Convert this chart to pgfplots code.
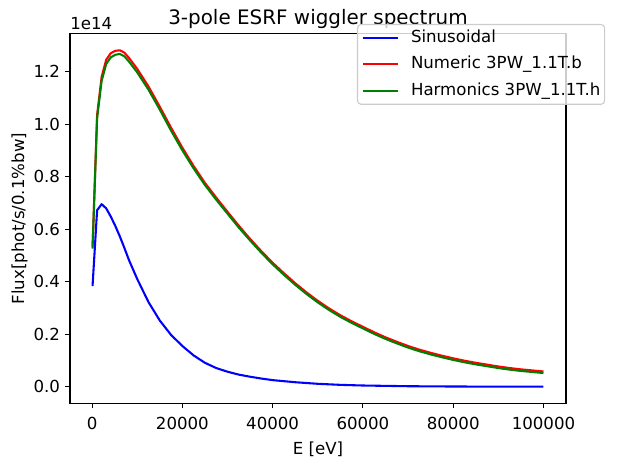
\documentclass[border=0pt]{standalone}
\usepackage{fontspec}
\setmainfont{DejaVu Sans}
\usepackage{pgfplots}
\usepackage{pgfplotstable}
\pgfplotsset{compat=1.18}
\definecolor{mplgreen}{rgb}{0,0.5,0}
\pgfplotstableread{
x y
100 0.383
1109 0.672
2118 0.695
3127 0.679
4136 0.648
5145 0.612
6155 0.572
7164 0.528
8173 0.482
10000 0.410
12500 0.322
15000 0.252
17500 0.197
20000 0.155
22500 0.119
25000 0.091
27500 0.071
30000 0.057
32500 0.046
35000 0.038
37500 0.031
40000 0.025
45000 0.017
50000 0.011
55000 0.007
60000 0.0045
70000 0.0018
80000 0.0007
90000 0.0003
100000 0.0001
}\sinus
\pgfplotstableread{
x y
100 0.53
1109 1.035
2118 1.18
3127 1.245
4136 1.270
5145 1.279
6155 1.281
7164 1.272
8173 1.252
10000 1.210
12500 1.143
15000 1.066
17500 0.986
20000 0.910
22500 0.840
25000 0.776
27500 0.720
30000 0.666
32500 0.613
35000 0.563
37500 0.516
40000 0.472
42500 0.432
45000 0.394
47500 0.359
50000 0.327
52500 0.298
55000 0.272
57500 0.249
60000 0.228
62500 0.207
65000 0.188
67500 0.171
70000 0.155
72500 0.141
75000 0.129
77500 0.118
80000 0.108
82500 0.099
85000 0.091
87500 0.084
90000 0.077
92500 0.071
95000 0.066
97500 0.062
100000 0.058
}\numeric
\pgfplotstableread{
x y
100 0.526
1109 1.022
2118 1.165
3127 1.229
4136 1.254
5145 1.264
6155 1.267
7164 1.258
8173 1.238
10000 1.197
12500 1.131
15000 1.055
17500 0.975
20000 0.900
22500 0.831
25000 0.768
27500 0.712
30000 0.659
32500 0.606
35000 0.557
37500 0.510
40000 0.466
42500 0.426
45000 0.388
47500 0.353
50000 0.321
52500 0.292
55000 0.266
57500 0.243
60000 0.222
62500 0.201
65000 0.182
67500 0.165
70000 0.149
72500 0.135
75000 0.123
77500 0.112
80000 0.102
82500 0.093
85000 0.085
87500 0.078
90000 0.071
92500 0.065
95000 0.060
97500 0.056
100000 0.052
}\harmonic
\begin{document}
\begin{tikzpicture}
\path[use as bounding box] (-50.4bp,-43.56bp) rectangle (393.84bp,290.52bp);
\begin{axis}[
  at={(0,0)}, anchor=south west,
  scale only axis, width=357.12bp, height=266.4bp,
  xmin=-4895, xmax=104995, ymin=-0.064, ymax=1.345,
  clip mode=individual,
  axis line style={line width=0.8bp},
  tick style={line width=0.8bp, black},
  tick align=outside, major tick length=3.5bp,
  xtick pos=bottom, ytick pos=left,
  xtick={0,20000,40000,60000,80000,100000},
  ytick={0,0.2,0.4,0.6,0.8,1.0,1.2},
  scaled ticks=false,
  /pgf/number format/assume math mode=true,
  xticklabel style={/pgf/number format/set thousands separator={}, /pgf/number format/fixed,
    font=\fontsize{12}{14.4}\selectfont, text height=8.75bp, text depth=0pt, inner sep=0pt, anchor=north, yshift=-6.4bp},
  yticklabel style={/pgf/number format/fixed, /pgf/number format/fixed zerofill, /pgf/number format/precision=1,
    font=\fontsize{12}{14.4}\selectfont, text height=8.75bp, text depth=0pt, inner sep=0pt, anchor=east, xshift=-3.5bp},
  every axis x label/.style={at={(axis description cs:0.5,-0.1366)}, anchor=base, font=\fontsize{12}{14.4}\selectfont, inner sep=0pt},
  every axis y label/.style={at={(axis description cs:-0.0927,0.5)}, rotate=90, anchor=base, font=\fontsize{12}{14.4}\selectfont, inner sep=0pt},
  xlabel={E [eV]},
  ylabel={Flux[phot/s/0.1\%bw]},
  title={3-pole ESRF wiggler spectrum},
  title style={at={(axis description cs:0.5,1)}, anchor=base, yshift=0.7bp, inner sep=0pt, font=\fontsize{14.4}{17}\selectfont},
  legend cell align=left,
  legend image code/.code={\draw[#1] (0bp,0bp) -- (25.2bp,0bp);},
  legend style={at={(axis description cs:0.5786,1.0257)}, anchor=north west,
    draw=black!20, line width=0.8bp, rounded corners=2.5bp, fill=white, fill opacity=0.8, text opacity=1,
    font=\fontsize{12}{14.4}\selectfont,
    inner xsep=3bp, inner ysep=3.85bp, row sep=7.6bp,
    nodes={inner sep=0pt, text height=9bp, text depth=2.5bp},
    /tikz/column 2/.style={column sep=0pt},
    /tikz/column 1/.style={column sep=8.8bp}},
  every axis plot/.append style={line width=1.5bp, line join=round},
]
\addplot[blue] table[x=x,y=y] {\sinus};
\addlegendentry{Sinusoidal}
\addplot[red] table[x=x,y=y] {\numeric};
\addlegendentry{Numeric 3PW\_1.1T.b}
\addplot[mplgreen] table[x=x,y=y] {\harmonic};
\addlegendentry{Harmonics 3PW\_1.1T.h}
\node[anchor=south west, inner sep=0pt, font=\fontsize{12}{14.4}\selectfont] at (rel axis cs:0,1) [yshift=2.7bp] {1e14};
\end{axis}
\end{tikzpicture}
\end{document}
